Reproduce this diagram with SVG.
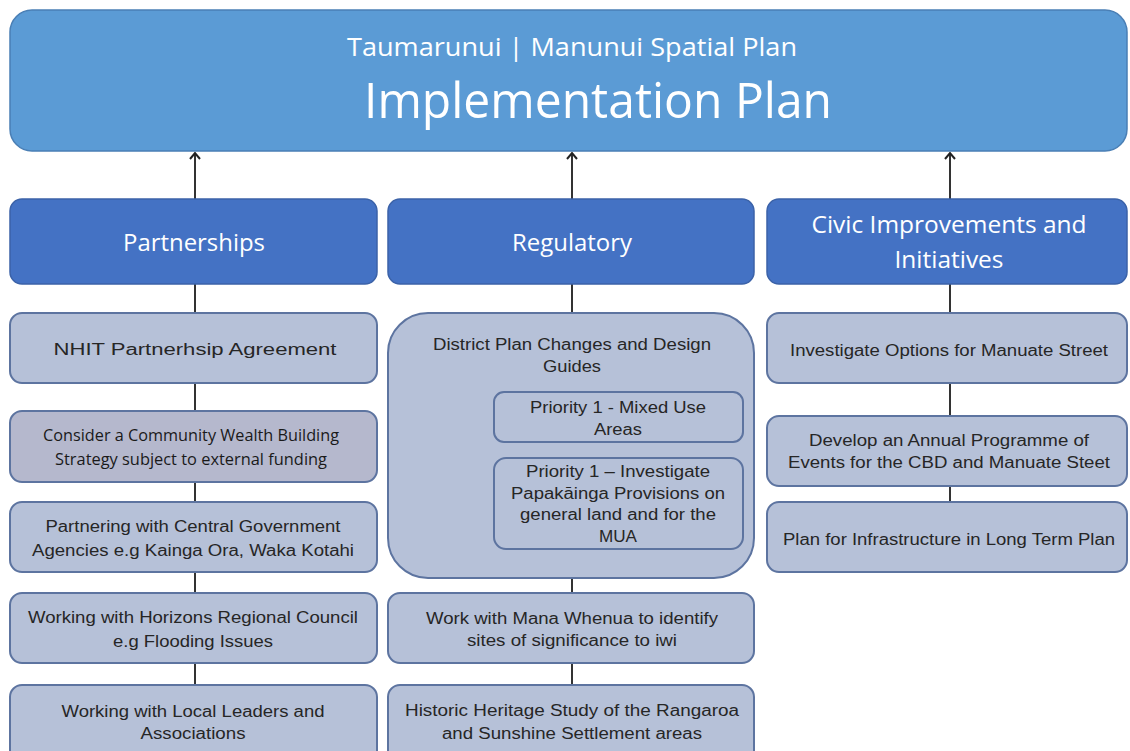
<svg xmlns="http://www.w3.org/2000/svg" width="1130" height="751" viewBox="0 0 1130 751">
<defs>
<style>
.top{fill:#5b9bd5;stroke:#4a7fb5;stroke-width:1.5}
.hdr{fill:#4472c4;stroke:#3b62a8;stroke-width:1.5}
.box{fill:#b6c1d8;stroke:#5d74a0;stroke-width:2}
.box2{fill:#b5b8cd;stroke:#5d74a0;stroke-width:2}
.wt{fill:#ffffff;font-family:"Open Sans","Noto Sans",sans-serif;text-anchor:middle}
.bt{fill:#262626;font-family:"Liberation Sans",Arial,sans-serif;font-size:16px;text-anchor:middle}
.ct{fill:#1a1a1a;font-family:"Open Sans","Noto Sans",sans-serif;font-size:16.5px;text-anchor:middle}
.ln{stroke:#333333;stroke-width:2;fill:none}
</style>
<marker id="arr" viewBox="0 0 12 12" refX="10" refY="6" markerWidth="12" markerHeight="12" markerUnits="userSpaceOnUse" orient="auto">
<path d="M4,1 L10,6 L4,11" fill="none" stroke="#222" stroke-width="2"/>
</marker>
</defs>
<rect width="1130" height="751" fill="#ffffff"/>
<g id="connectors">
<line class="ln" x1="195" y1="199" x2="195" y2="153" marker-end="url(#arr)"/>
<line class="ln" x1="572" y1="199" x2="572" y2="153" marker-end="url(#arr)"/>
<line class="ln" x1="950" y1="199" x2="950" y2="153" marker-end="url(#arr)"/>
<line class="ln" x1="195" y1="284" x2="195" y2="685"/>
<line class="ln" x1="572" y1="284" x2="572" y2="685"/>
<line class="ln" x1="950" y1="284" x2="950" y2="502"/>
</g>
<g id="title">
<rect class="top" x="10" y="10" width="1117" height="141" rx="22"/>
<text class="wt" x="572" y="56" font-size="26" textLength="450" lengthAdjust="spacingAndGlyphs">Taumarunui | Manunui Spatial Plan</text>
<text class="wt" x="598" y="118" font-size="50" textLength="468" lengthAdjust="spacingAndGlyphs">Implementation Plan</text>
</g>
<g id="partnerships">
<rect class="hdr" x="10" y="199" width="367" height="85" rx="12"/>
<text class="wt" x="194" y="251" font-size="23" textLength="142" lengthAdjust="spacingAndGlyphs">Partnerships</text>
</g>
<g id="regulatory">
<rect class="hdr" x="388" y="199" width="366" height="85" rx="12"/>
<text class="wt" x="572" y="251" font-size="23" textLength="120" lengthAdjust="spacingAndGlyphs">Regulatory</text>
</g>
<g id="civic">
<rect class="hdr" x="767" y="199" width="360" height="85" rx="12"/>
<text class="wt" x="949" y="233" font-size="23" textLength="275" lengthAdjust="spacingAndGlyphs">Civic Improvements and</text>
<text class="wt" x="949" y="268" font-size="23" textLength="109" lengthAdjust="spacingAndGlyphs">Initiatives</text>
</g>
<g id="nhit">
<rect class="box" x="10" y="313" width="367" height="70" rx="12"/>
<text class="bt" x="195" y="355" textLength="283" lengthAdjust="spacingAndGlyphs">NHIT Partnerhsip Agreement</text>
</g>
<g id="cwb">
<rect class="box2" x="10" y="411" width="367" height="71" rx="12"/>
<text class="ct" x="191" y="441" textLength="296" lengthAdjust="spacingAndGlyphs">Consider a Community Wealth Building</text>
<text class="ct" x="191" y="465" textLength="272" lengthAdjust="spacingAndGlyphs">Strategy subject to external funding</text>
</g>
<g id="central-gov">
<rect class="box" x="10" y="502" width="367" height="70" rx="12"/>
<text class="bt" x="193" y="532" textLength="295" lengthAdjust="spacingAndGlyphs">Partnering with Central Government</text>
<text class="bt" x="193" y="556" textLength="322" lengthAdjust="spacingAndGlyphs">Agencies e.g Kainga Ora, Waka Kotahi</text>
</g>
<g id="horizons">
<rect class="box" x="10" y="593" width="367" height="70" rx="12"/>
<text class="bt" x="193" y="623" textLength="330" lengthAdjust="spacingAndGlyphs">Working with Horizons Regional Council</text>
<text class="bt" x="193" y="647" textLength="160" lengthAdjust="spacingAndGlyphs">e.g Flooding Issues</text>
</g>
<g id="local-leaders">
<rect class="box" x="10" y="685" width="367" height="80" rx="12"/>
<text class="bt" x="193" y="717" textLength="263" lengthAdjust="spacingAndGlyphs">Working with Local Leaders and</text>
<text class="bt" x="193" y="739" textLength="105" lengthAdjust="spacingAndGlyphs">Associations</text>
</g>
<g id="district-plan">
<rect class="box" x="388" y="313" width="366" height="265" rx="40"/>
<text class="bt" x="572" y="350" textLength="278" lengthAdjust="spacingAndGlyphs">District Plan Changes and Design</text>
<text class="bt" x="572" y="372" textLength="58" lengthAdjust="spacingAndGlyphs">Guides</text>
</g>
<g id="mixed-use">
<rect class="box" x="494" y="392" width="249" height="50" rx="10"/>
<text class="bt" x="618" y="413" textLength="176" lengthAdjust="spacingAndGlyphs">Priority 1 - Mixed Use</text>
<text class="bt" x="618" y="435" textLength="48" lengthAdjust="spacingAndGlyphs">Areas</text>
</g>
<g id="papakainga">
<rect class="box" x="494" y="458" width="249" height="91" rx="12"/>
<text class="bt" x="618" y="477" textLength="184" lengthAdjust="spacingAndGlyphs">Priority 1 – Investigate</text>
<text class="bt" x="618" y="499" textLength="214" lengthAdjust="spacingAndGlyphs">Papakāinga Provisions on</text>
<text class="bt" x="618" y="520" textLength="196" lengthAdjust="spacingAndGlyphs">general land and for the</text>
<text class="bt" x="618" y="542" textLength="38" lengthAdjust="spacingAndGlyphs">MUA</text>
</g>
<g id="mana-whenua">
<rect class="box" x="388" y="593" width="366" height="70" rx="12"/>
<text class="bt" x="572" y="624" textLength="292" lengthAdjust="spacingAndGlyphs">Work with Mana Whenua to identify</text>
<text class="bt" x="572" y="646" textLength="210" lengthAdjust="spacingAndGlyphs">sites of significance to iwi</text>
</g>
<g id="heritage">
<rect class="box" x="388" y="685" width="366" height="80" rx="12"/>
<text class="bt" x="572" y="716" textLength="334" lengthAdjust="spacingAndGlyphs">Historic Heritage Study  of the Rangaroa</text>
<text class="bt" x="572" y="739" textLength="260" lengthAdjust="spacingAndGlyphs">and Sunshine Settlement areas</text>
</g>
<g id="manuate">
<rect class="box" x="767" y="313" width="360" height="70" rx="12"/>
<text class="bt" x="949" y="356" textLength="318" lengthAdjust="spacingAndGlyphs">Investigate Options for Manuate Street</text>
</g>
<g id="events">
<rect class="box" x="767" y="416" width="360" height="70" rx="12"/>
<text class="bt" x="949" y="446" textLength="280" lengthAdjust="spacingAndGlyphs">Develop an Annual  Programme  of</text>
<text class="bt" x="949" y="468" textLength="322" lengthAdjust="spacingAndGlyphs">Events for the CBD and Manuate Steet</text>
</g>
<g id="infrastructure">
<rect class="box" x="767" y="502" width="360" height="70" rx="12"/>
<text class="bt" x="949" y="545" textLength="332" lengthAdjust="spacingAndGlyphs">Plan for Infrastructure in Long Term Plan</text>
</g>
</svg>
